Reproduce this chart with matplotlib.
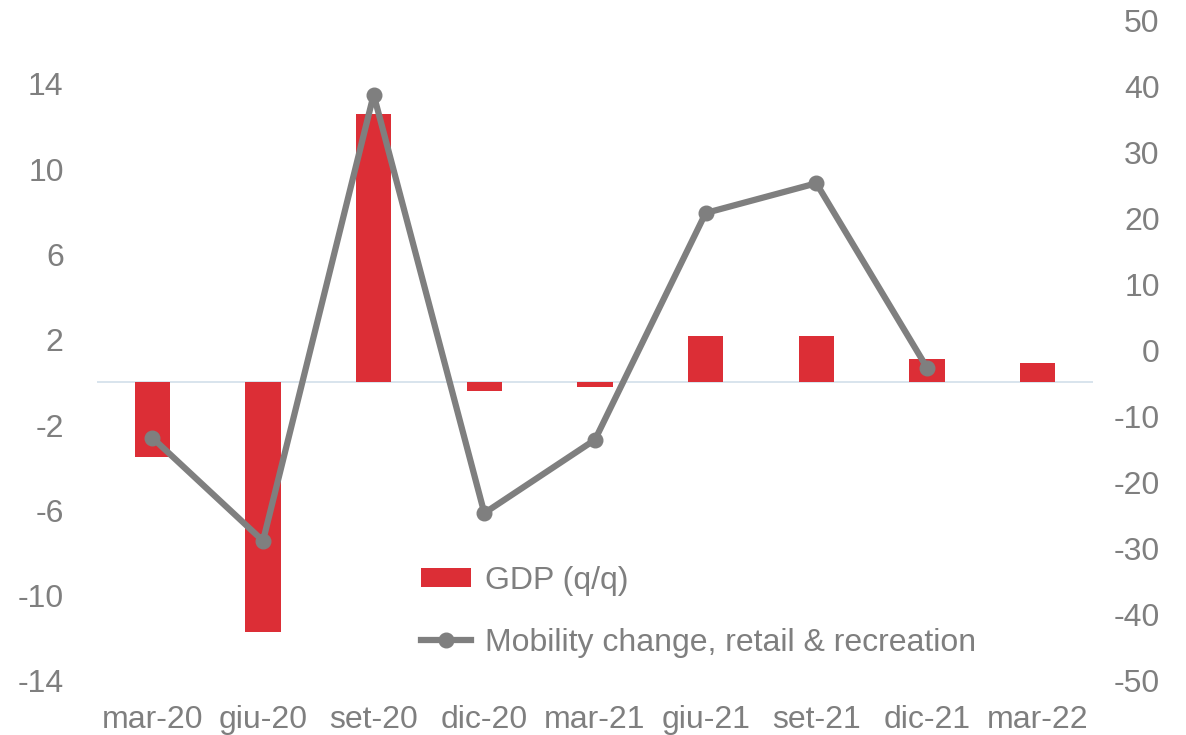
import matplotlib
matplotlib.use("Agg")
import matplotlib.pyplot as plt
import numpy as np

plt.rcParams['font.family'] = ['Liberation Sans', 'DejaVu Sans']
plt.rcParams['axes.unicode_minus'] = False

# dati
quarters = ["mar-20", "giu-20", "set-20", "dic-20", "mar-21", "giu-21", "set-21", "dic-21", "mar-22"]
gdp = [-3.5, -11.7, 12.6, -0.4, -0.2, 2.2, 2.2, 1.1, 0.9]
mobility = [-13.2, -28.8, 38.7, -24.6, -13.5, 20.8, 25.3, -2.6]

grey = '#7f7f7f'
red = '#dc2e36'
fs = 23

fig = plt.figure(figsize=(11.86, 7.35), dpi=100)
ax1 = fig.add_axes([97/1186, 1 - 681/735, (1093 - 97)/1186, (681 - 20)/735])
ax2 = ax1.twinx()

x = np.arange(len(quarters))
bars = ax1.bar(x, gdp, width=0.32, color=red, label='GDP (q/q)', zorder=2)
ax1.axhline(0, color='#d6e2ec', lw=1.3, zorder=1)
line, = ax2.plot(x[:len(mobility)], mobility, color=grey, lw=4.5, marker='o',
                 markersize=10.5, label='Mobility change, retail & recreation')

ax1.set_xlim(-0.5, len(quarters) - 0.5)
ax1.set_ylim(-14, 17)
ax1.set_yticks(np.arange(-14, 15, 4))
ax2.set_ylim(-50, 50)
ax2.set_yticks(np.arange(-50, 51, 10))
ax1.set_xticks(x)
ax1.set_xticklabels(quarters)

for ax in (ax1, ax2):
    for s in ax.spines.values():
        s.set_visible(False)
ax1.tick_params(axis='both', length=0, labelsize=fs, labelcolor=grey)
ax1.tick_params(axis='y', pad=24)
ax1.tick_params(axis='x', pad=17)
ax2.tick_params(axis='y', length=0, labelsize=fs, labelcolor=grey, pad=48)
for lbl in ax2.get_yticklabels():
    lbl.set_horizontalalignment('right')

leg = ax2.legend([bars, line], [bars.get_label(), line.get_label()],
                 loc='upper left', bbox_to_anchor=(421/1186, 1 - 566/735),
                 bbox_transform=fig.transFigure, frameon=False, fontsize=fs,
                 handlelength=1.55, handleheight=0.55, handletextpad=0.44,
                 labelspacing=1.0, borderpad=0, borderaxespad=0)
for t in leg.get_texts():
    t.set_color(grey)

fig.savefig("out.png", dpi=100)
